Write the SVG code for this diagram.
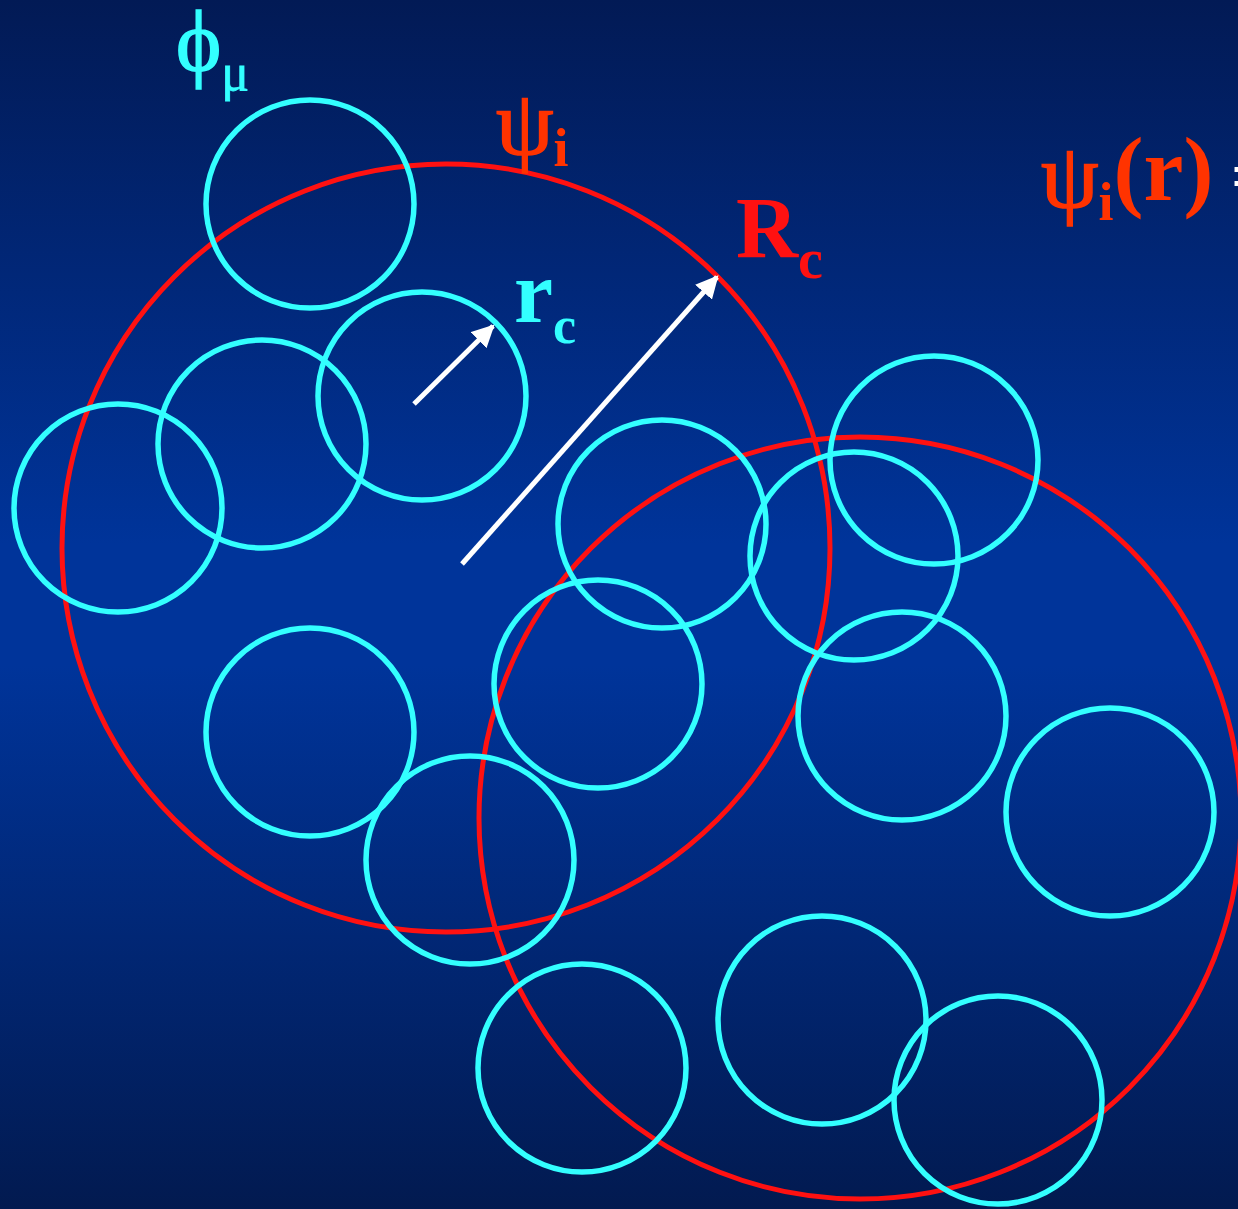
<svg xmlns="http://www.w3.org/2000/svg" width="1238" height="1209" viewBox="0 0 1238 1209">
<defs>
<linearGradient id="bg" x1="0" y1="0" x2="0" y2="1">
<stop offset="0" stop-color="#021a55"/>
<stop offset="0.45" stop-color="#00349a"/>
<stop offset="0.55" stop-color="#00349a"/>
<stop offset="1" stop-color="#021a50"/>
</linearGradient>
<marker id="ah" viewBox="0 0 10 10" refX="9" refY="5" markerWidth="4.5" markerHeight="4.5" orient="auto" markerUnits="strokeWidth">
<path d="M0,0 L10,5 L0,10 z" fill="#ffffff"/>
</marker>
<style>
.c{fill:none;stroke:#33ffff;stroke-width:5.5}
.R{fill:none;stroke:#ff1111;stroke-width:5}
.a{stroke:#ffffff;stroke-width:5;fill:none}
.t{font-family:"Liberation Serif","Times New Roman",serif}
</style>
</defs>
<rect width="1238" height="1209" fill="url(#bg)"/>
<g id="big-circles">
<circle id="psi1" class="R" cx="446" cy="548" r="384"/>
<circle id="psi2" class="R" cx="860" cy="818" r="381"/>
</g>
<g id="small-circles">
<circle id="phi1" class="c" cx="310" cy="204" r="104"/>
<circle id="phi2" class="c" cx="422" cy="396" r="104"/>
<circle id="phi3" class="c" cx="262" cy="444" r="104"/>
<circle id="phi4" class="c" cx="118" cy="508" r="104"/>
<circle id="phi5" class="c" cx="662" cy="524" r="104"/>
<circle id="phi6" class="c" cx="854" cy="556" r="104"/>
<circle id="phi7" class="c" cx="934" cy="460" r="104"/>
<circle id="phi8" class="c" cx="598" cy="684" r="104"/>
<circle id="phi9" class="c" cx="310" cy="732" r="104"/>
<circle id="phi10" class="c" cx="470" cy="860" r="104"/>
<circle id="phi11" class="c" cx="902" cy="716" r="104"/>
<circle id="phi12" class="c" cx="1110" cy="812" r="104"/>
<circle id="phi13" class="c" cx="582" cy="1068" r="104"/>
<circle id="phi14" class="c" cx="822" cy="1020" r="104"/>
<circle id="phi15" class="c" cx="998" cy="1100" r="104"/>
</g>
<g id="connectors">
<line class="a" x1="414" y1="404" x2="493" y2="326" marker-end="url(#ah)"/>
<line class="a" x1="462" y1="564" x2="717" y2="277" marker-end="url(#ah)"/>
</g>
<g id="labels" class="t">
<text x="176" y="70" font-size="86" fill="#33ffff" stroke="#33ffff" stroke-width="1.5">ϕ<tspan font-size="52" stroke-width="0.8" dy="20">μ</tspan></text>
<text x="496" y="154" font-size="92" fill="#ff3300" stroke="#ff3300" stroke-width="1.5">ψ<tspan font-size="54" font-weight="bold" stroke-width="0" dy="12">i</tspan></text>
<text x="1041" y="207" font-size="92" fill="#ff3300" stroke="#ff3300" stroke-width="1.5">ψ<tspan font-size="54" font-weight="bold" stroke-width="0" dy="13">i</tspan><tspan font-size="90" font-weight="bold" stroke-width="0" dy="-20">(r)</tspan></text>
<text x="1231" y="200" font-size="72" font-weight="bold" fill="#ffffff">=</text>
<text x="736" y="257" font-size="86" font-weight="bold" fill="#ff1111">R<tspan font-size="56" dy="21">c</tspan></text>
<text x="514" y="322" font-size="88" font-weight="bold" fill="#33ffff">r<tspan font-size="52" dy="21">c</tspan></text>
</g>
</svg>
